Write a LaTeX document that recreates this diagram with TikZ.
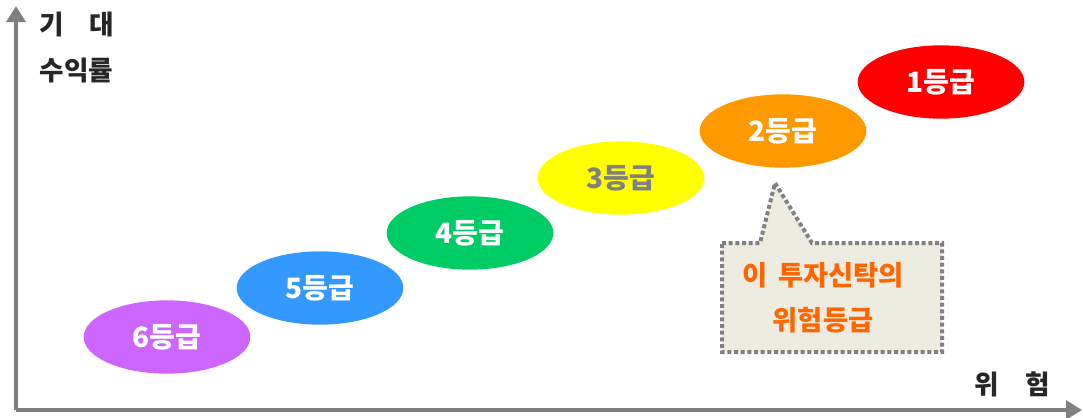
\documentclass[tikz,border=0pt]{standalone}
\usepackage{fontspec}
\setmainfont{Noto Sans CJK KR}
\usetikzlibrary{arrows.meta,shapes.geometric}

\definecolor{axisgray}{RGB}{128,128,128}
\definecolor{grade6}{RGB}{204,102,255}
\definecolor{grade5}{RGB}{51,153,255}
\definecolor{grade4}{RGB}{0,204,102}
\definecolor{grade3}{RGB}{255,255,0}
\definecolor{grade2}{RGB}{255,153,0}
\definecolor{grade1}{RGB}{255,0,0}
\definecolor{calloutfill}{RGB}{238,236,225}
\definecolor{calloutborder}{RGB}{128,128,128}
\definecolor{callouttext}{RGB}{255,102,0}

\tikzset{every picture/.style={line width=0.75pt}}
\tikzset{
  grade/.style={ellipse, minimum width=125pt, minimum height=55pt, inner sep=0pt,
    text=white, font=\fontsize{21}{24}\selectfont\bfseries},
  axislabel/.style={anchor=west, inner sep=0.75pt, text={rgb,255:red,38;green,38;blue,38},
    font=\fontsize{20}{24}\selectfont\bfseries},
}

\begin{document}
\begin{tikzpicture}[x=0.75pt,y=0.75pt,yscale=-1,xscale=1]
\path[use as bounding box] (0,0) rectangle (1083,418);

%Shape: Axis 2D
\coordinate (origin) at (16,410);
\coordinate (ytop) at (16,6);
\coordinate (xend) at (1082,410);
\draw [axisgray, line width=3.5, -{Triangle[length=12,width=14]}] (origin) -- (ytop);
\draw [axisgray, line width=3.5, -{Triangle[length=12,width=14]}] (origin) -- (xend);

% Grade ellipses
\node [grade, fill=grade6] (g6) at (167,337) {6등급};
\node [grade, fill=grade5] (g5) at (320,288) {5등급};
\node [grade, fill=grade4] (g4) at (470,233) {4등급};
\node [grade, fill=grade3, text=axisgray] (g3) at (621,178) {3등급};
\node [grade, fill=grade2] (g2) at (783,131) {2등급};
\node [grade, fill=grade1] (g1) at (941,82) {1등급};

%Shape: Callout
\draw [calloutborder, fill=calloutfill, line width=3, dotted, line cap=butt]
  (722,243) -- (760,243) -- (775,183) -- (812,243) -- (942,243) -- (942,352) -- (722,352) -- cycle;

% Text Node
\node [anchor=center, inner sep=0.75pt, text=callouttext, align=center,
  font=\fontsize{20.5}{34}\selectfont\bfseries] (note) at (823,298) {이 \,투자신탁의\\위험등급};
% Text Node
\node [axislabel] (ylab1) at (38,24) {기\hspace{19pt}대};
% Text Node
\node [axislabel] (ylab2) at (38,71) {수익률};
% Text Node
\node [axislabel] (xlab) at (973,384) {위\hspace{20pt}험};

\end{tikzpicture}
\end{document}
